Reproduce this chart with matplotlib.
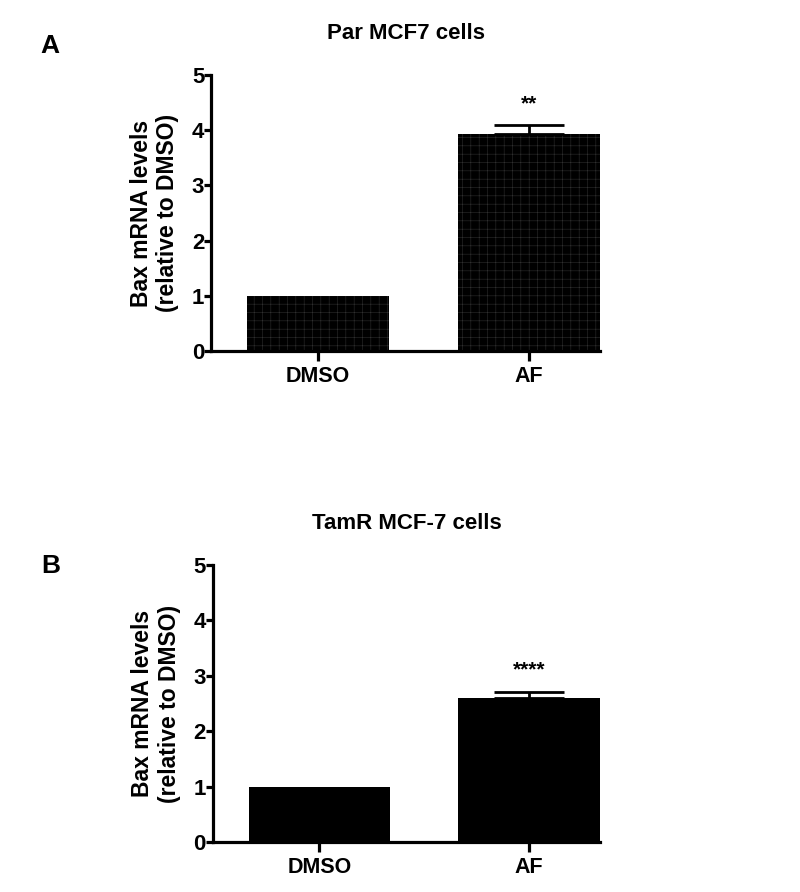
import numpy as np
import matplotlib
matplotlib.use('Agg')
from matplotlib import pyplot as plt

plt.rcParams['font.family'] = ['Liberation Sans', 'DejaVu Sans']
plt.rcParams['font.weight'] = 'bold'
plt.rcParams['hatch.linewidth'] = 0.4

# datos
groups = ['DMSO', 'AF']
par_mean = [1.0, 3.93]
par_err = [0.0, 0.16]
par_sig = ['', '**']
tamr_mean = [1.0, 2.60]
tamr_err = [0.0, 0.11]
tamr_sig = ['', '****']

titles = ['Par MCF7 cells', 'TamR MCF-7 cells']
letters = ['A', 'B']
ylabel = 'Bax mRNA levels\n(relative to DMSO)'


def panel(ax, mean, err, sig, title, hatch):
    x = np.arange(len(groups))
    ax.bar(x, mean, width=0.675, color='black', edgecolor='#2e2e2e' if hatch else 'black',
           hatch=hatch, linewidth=0)
    for xi, m, e in zip(x, mean, err):
        if e > 0:
            ax.errorbar(xi, m, yerr=[[0], [e]], fmt='none', ecolor='black',
                        elinewidth=2, capsize=25, capthick=2)
    for xi, m, e, s in zip(x, mean, err, sig):
        if s:
            ax.text(xi, m + e + 0.22, s, ha='center', va='bottom', fontsize=15,
                    fontweight='bold')
    ax.set_xlim(-0.508, 1.3375)
    ax.set_ylim(0, 5)
    ax.set_yticks([0, 1, 2, 3, 4, 5])
    ax.set_xticks(x)
    ax.set_xticklabels(groups)
    for sp in ['top', 'right']:
        ax.spines[sp].set_visible(False)
    for sp in ['left', 'bottom']:
        ax.spines[sp].set_linewidth(2.3)
    ax.tick_params(axis='y', length=5, width=2.3, labelsize=16, pad=0)
    ax.tick_params(axis='x', length=7, width=2.3, labelsize=15.5, pad=4)
    for lab in ax.get_xticklabels() + ax.get_yticklabels():
        lab.set_fontweight('bold')
    ax.set_ylabel(ylabel, fontsize=16.5, fontweight='bold', labelpad=9)
    ax.set_title(title, fontsize=16, fontweight='bold', pad=26)


fig = plt.figure(figsize=(8, 8.92), dpi=100)
ax1 = fig.add_axes([0.264, 0.6065, 0.486, 0.3095])
ax2 = fig.add_axes([0.266, 0.056, 0.484, 0.3106])

panel(ax1, par_mean, par_err, par_sig, titles[0], '++')
panel(ax2, tamr_mean, tamr_err, tamr_sig, titles[1], None)

fig.text(0.05, 0.948, letters[0], fontsize=19, fontweight='bold', va='center')
fig.text(0.052, 0.366, letters[1], fontsize=19, fontweight='bold', va='center')

fig.savefig('out.png', dpi=100)
